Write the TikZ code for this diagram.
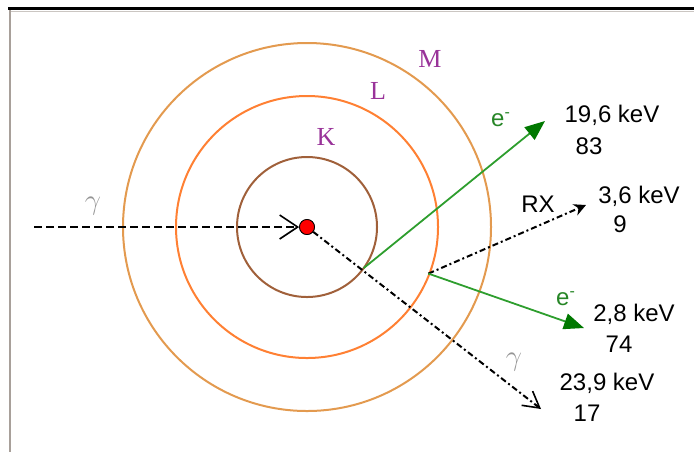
\documentclass[tikz,border=0pt]{standalone}
\usepackage{fontspec}
\setmainfont{Liberation Sans}
\newfontfamily\shellfont{Liberation Serif}
\usetikzlibrary{arrows.meta}
\definecolor{shellK}{HTML}{A0603A}
\definecolor{shellL}{HTML}{FF8033}
\definecolor{shellM}{HTML}{E39A4F}
\definecolor{plum}{HTML}{993399}
\definecolor{leaf}{HTML}{2E9E2E}
\definecolor{leafdark}{HTML}{007800}
\definecolor{greyg}{HTML}{959595}
\definecolor{frameg}{HTML}{A8A09A}

\begin{document}
\begin{tikzpicture}[
  x=0.5pt,y=-0.5pt,
  shell/.style={line width=1pt},
  shelltag/.style={text=plum,inner sep=0pt,font=\shellfont\fontsize{13}{15}\selectfont},
  val/.style={inner sep=0pt,font=\fontsize{12}{14}\selectfont},
  gtag/.style={text=greyg,inner sep=0pt,font=\fontsize{14}{16}\selectfont},
  etag/.style={text=leaf!85!black,inner sep=0pt,font=\fontsize{12}{14}\selectfont},
  photon/.style={line width=0.9pt,dash pattern=on 4pt off 2pt},
  ray/.style={line width=1pt,dash pattern=on 3pt off 1.5pt on 1pt off 1.5pt},
  elec/.style={line width=0.9pt,draw=leaf,-{Triangle[length=10pt,width=8pt,color=leafdark]}},
  barb/.style={-{Straight Barb[length=9pt,width=12pt,line width=0.8pt]}}
]
\useasboundingbox (0,0) rectangle (694,452);

% atom
\node[circle,fill=red,draw=black,line width=0.4pt,minimum size=7.5pt,inner sep=0pt] (nuc) at (307,227) {};
\foreach \r/\c in {70/shellK,131/shellL,184/shellM}{\draw[shell,\c] (nuc.center) circle[radius=\r];}

\node[shelltag] (tagK) at (326,137) {K};
\node[shelltag] (tagL) at (378,91) {L};
\node[shelltag] (tagM) at (430,59) {M};

\path (nuc.center) ++(36:70) coordinate (kout);
\path (nuc.center) ++(21:130) coordinate (lout);
\coordinate (gin) at (34,227);
\coordinate (gend) at (541,409);
\coordinate (eKend) at (545,121);
\coordinate (rxend) at (586,205);
\coordinate (eLend) at (584,328);

% rays
\draw[photon,barb] (gin) -- (nuc.west);
\draw[ray,-{Straight Barb[length=8pt,width=9pt,line width=0.8pt]}] (nuc) -- (gend);
\draw[ray,-{Stealth[length=6pt,width=6pt]}] (lout) -- (rxend);
\draw[elec] (kout) -- (eKend);
\draw[elec] (lout) -- (eLend);
\node[circle,fill=red,draw=black,line width=0.4pt,minimum size=7.5pt,inner sep=0pt] at (nuc) {};

% labels
\node[gtag] (gamin) at (93,206) {$\gamma$};
\node[gtag] (gamout) at (514,362) {$\gamma$};
\node[etag] (eK) at (501,120) {e\textsuperscript{-}};
\node[etag] (eL) at (566,299) {e\textsuperscript{-}};
\node[val] (rx) at (538,204) {RX};

\node[val] (enK) at (612,115) {19,6 keV};
\node[val] (nK) at (589,146) {83};
\node[val] (enX) at (639,196) {3,6 keV};
\node[val] (nX) at (620,224) {9};
\node[val] (enL) at (634,314) {2,8 keV};
\node[val] (nL) at (619,344) {74};
\node[val] (enG) at (607,383) {23,9 keV};
\node[val] (nG) at (587,413) {17};

% frame
\fill[black] (8,6.5) rectangle (694,9.5);
\fill[frameg!60] (10,10.5) rectangle (694,11.5);
\fill[frameg] (8.5,9.5) rectangle (10.5,452);
\end{tikzpicture}
\end{document}
